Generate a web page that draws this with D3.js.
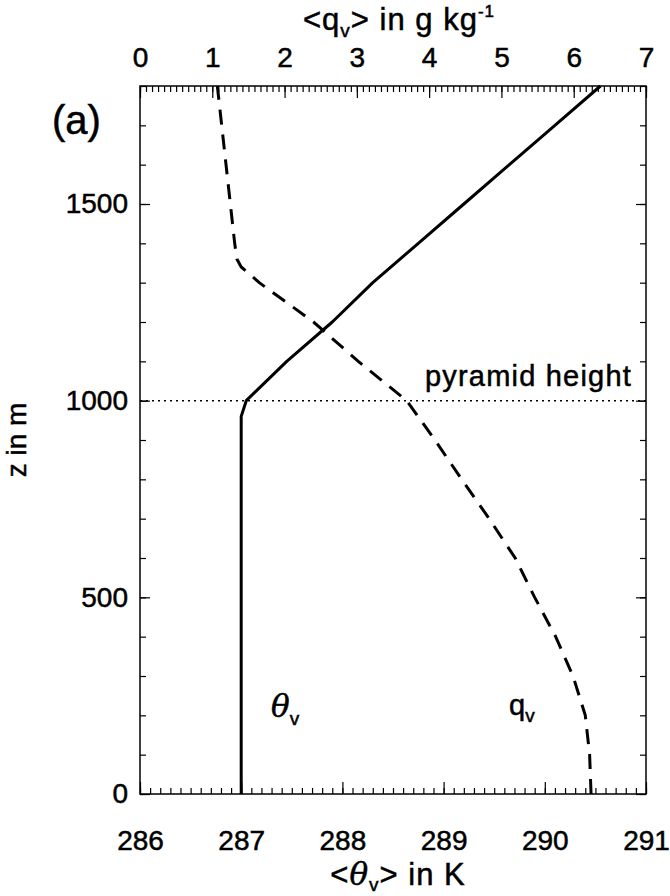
<!DOCTYPE html>
<html>
<head>
<meta charset="utf-8">
<script src="https://cdn.jsdelivr.net/npm/d3@7"></script>
<style>
  body { margin: 0; background: #fff; }
  svg text { font-family: "Liberation Sans", Arial, Helvetica, sans-serif; fill: #000; stroke: #000; stroke-width: 0.5px; }
</style>
</head>
<body>
<svg id="chart" width="670" height="896"></svg>
<script>
// virtual potential temperature profile (solid)
const thetaZ = [0, 200, 400, 600, 800, 960, 1000, 1100, 1200, 1300, 1400, 1500, 1600, 1700, 1800];
const thetaV = [287.0, 287.0, 287.0, 287.0, 287.0, 287.0, 287.05, 287.45, 287.9, 288.3, 288.75, 289.2, 289.65, 290.1, 290.55];

// specific humidity profile (dashed)
const qZ = [0, 100, 200, 300, 400, 500, 600, 700, 800, 900, 1000, 1100, 1200, 1300, 1340, 1360, 1400, 1500, 1600, 1700, 1800];
const qV = [6.24, 6.22, 6.16, 5.99, 5.75, 5.46, 5.19, 4.83, 4.45, 4.08, 3.69, 3.02, 2.4, 1.65, 1.4, 1.34, 1.31, 1.25, 1.19, 1.13, 1.07];

const thetaTicks = [286, 287, 288, 289, 290, 291];
const qTicks = [0, 1, 2, 3, 4, 5, 6, 7];
const zTicks = [0, 500, 1000, 1500];
const pyramidHeight = 1000;

const margin = {top: 86, left: 140},
      width = 506,
      height = 708;

let svg = d3.select('#chart');
let g = svg.append('g').attr('transform', `translate(${margin.left},${margin.top})`);

let x = d3.scaleLinear().domain([286, 291]).range([0, width]);
let xq = d3.scaleLinear().domain([0, 7]).range([0, width]);
let y = d3.scaleLinear().domain([0, 1800]).range([height, 0]);

let styleAxis = (sel) => {
    sel.select('.domain').remove();
    sel.selectAll('line').attr('stroke', '#000').attr('stroke-width', 1.2);
};

const MINOR = 6, MAJOR = 12, FS = 28;

// minor and major ticks, drawn inward
let thetaMinor = d3.range(0, 51).map(i => 286 + i / 10);
let qMinor = d3.range(0, 85).map(i => i / 12);
let zMinor = d3.range(0, 19).map(i => i * 100);

g.append('g').attr('transform', `translate(0,${height})`)
    .call(d3.axisBottom(x).tickValues(thetaMinor).tickSize(-MINOR).tickFormat(''))
    .call(styleAxis);
g.append('g').attr('transform', `translate(0,${height})`)
    .call(d3.axisBottom(x).tickValues(thetaTicks).tickSize(-MAJOR).tickFormat(''))
    .call(styleAxis);
g.append('g')
    .call(d3.axisTop(xq).tickValues(qMinor).tickSize(-MINOR).tickFormat(''))
    .call(styleAxis);
g.append('g')
    .call(d3.axisTop(xq).tickValues(qTicks).tickSize(-MAJOR).tickFormat(''))
    .call(styleAxis);
g.append('g')
    .call(d3.axisLeft(y).tickValues(zMinor).tickSize(-MINOR).tickFormat(''))
    .call(styleAxis);
g.append('g')
    .call(d3.axisLeft(y).tickValues(zTicks).tickSize(-10).tickFormat(''))
    .call(styleAxis);
g.append('g').attr('transform', `translate(${width},0)`)
    .call(d3.axisRight(y).tickValues(zMinor).tickSize(-MINOR).tickFormat(''))
    .call(styleAxis);
g.append('g').attr('transform', `translate(${width},0)`)
    .call(d3.axisRight(y).tickValues(zTicks).tickSize(-10).tickFormat(''))
    .call(styleAxis);

// tick labels
let labels = (sel) => {
    sel.select('.domain').remove();
    sel.selectAll('text').style('font-size', FS + 'px');
};
g.append('g').attr('transform', `translate(0,${height})`)
    .call(d3.axisBottom(x).tickValues(thetaTicks).tickSize(0).tickPadding(36).tickFormat(d3.format('d')))
    .call(labels);
g.append('g')
    .call(d3.axisTop(xq).tickValues(qTicks).tickSize(0).tickPadding(19).tickFormat(d3.format('d')))
    .call(labels);
g.append('g')
    .call(d3.axisLeft(y).tickValues(zTicks).tickSize(0).tickPadding(12).tickFormat(d3.format('d')))
    .call(labels);

// frame
g.append('rect')
    .attr('width', width).attr('height', height)
    .attr('fill', 'none').attr('stroke', '#000').attr('stroke-width', 1.5);

// pyramid height marker
g.append('line')
    .attr('x1', 0).attr('x2', width)
    .attr('y1', y(pyramidHeight)).attr('y2', y(pyramidHeight))
    .attr('stroke', '#000').attr('stroke-width', 1.5)
    .attr('stroke-dasharray', '2,4');
g.append('text')
    .attr('x', width - 14).attr('y', y(pyramidHeight) - 15)
    .attr('text-anchor', 'end')
    .style('font-size', '29px')
    .style('letter-spacing', '1.2px')
    .text('pyramid height');

// profiles
let thetaLine = d3.line().x(d => x(d[0])).y(d => y(d[1]));
let qLine = d3.line().x(d => xq(d[0])).y(d => y(d[1]));

g.append('path')
    .datum(d3.zip(thetaV, thetaZ))
    .attr('d', thetaLine)
    .attr('fill', 'none').attr('stroke', '#000').attr('stroke-width', 3)
    .attr('stroke-linejoin', 'round');

g.append('path')
    .datum(d3.zip(qV, qZ))
    .attr('d', qLine)
    .attr('fill', 'none').attr('stroke', '#000').attr('stroke-width', 3)
    .attr('stroke-dasharray', '15,10');

// curve labels
let thLabel = svg.append('text').attr('x', 271).attr('y', 717).style('font-size', '31px');
thLabel.append('tspan').style('font-style', 'italic').attr('font-family', 'DejaVu Serif, serif').text('θ');
thLabel.append('tspan').attr('dy', 8).style('font-size', '19px').text('v');

let qLabel = svg.append('text').attr('x', 509).attr('y', 715).style('font-size', '29px');
qLabel.append('tspan').text('q');
qLabel.append('tspan').attr('dy', 7).style('font-size', '19px').text('v');

// panel label
svg.append('text').attr('x', 52).attr('y', 134).style('font-size', '40px').text('(a)');

// axis titles
let topTitle = svg.append('text').attr('x', 399).attr('y', 30)
    .attr('text-anchor', 'middle').style('font-size', '31px')
    .style('letter-spacing', '1px');
topTitle.append('tspan').text('<q');
topTitle.append('tspan').attr('dy', 7).style('font-size', '19px').text('v');
topTitle.append('tspan').attr('dy', -7).text('> in g kg');
topTitle.append('tspan').attr('dy', -13).style('font-size', '17px').text('-1');

let botTitle = svg.append('text').attr('x', 398).attr('y', 885)
    .attr('text-anchor', 'middle').style('font-size', '31px')
    .style('letter-spacing', '1px');
botTitle.append('tspan').text('<');
botTitle.append('tspan').style('font-style', 'italic').attr('font-family', 'DejaVu Serif, serif').text('θ');
botTitle.append('tspan').attr('dy', 6).style('font-size', '19px').text('v');
botTitle.append('tspan').attr('dy', -6).text('> in K');

svg.append('text')
    .attr('transform', 'translate(26,440) rotate(-90)')
    .attr('text-anchor', 'middle')
    .style('font-size', FS + 'px')
    .text('z in m');
</script>
</body>
</html>
